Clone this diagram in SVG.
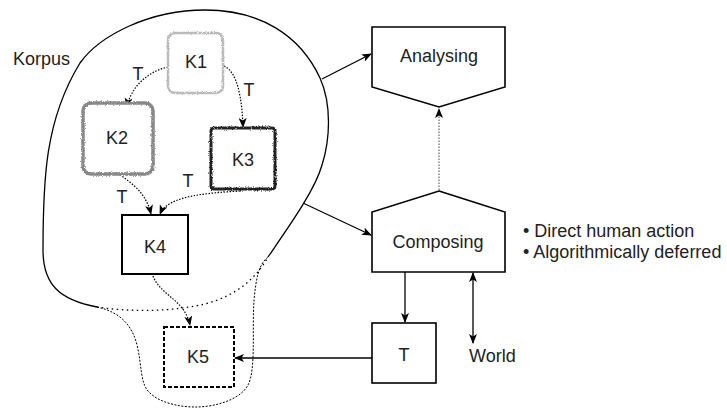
<svg xmlns="http://www.w3.org/2000/svg" width="727" height="408" viewBox="0 0 727 408">
<defs>
<style>
text{font-family:"Liberation Sans",Arial,sans-serif;font-size:18px;fill:#222}
.c{text-anchor:middle}
.solid{fill:none;stroke:#000;stroke-width:1.3}
.dot{fill:none;stroke:#000;stroke-width:1.2;stroke-dasharray:1.5 1.5}
.box{fill:#fff;stroke:#000;stroke-width:1.6}
</style>
<marker id="ah" viewBox="0 0 10 8" refX="9" refY="4" markerWidth="10" markerHeight="8" markerUnits="userSpaceOnUse" orient="auto-start-reverse">
<path d="M0,0 L10,4 L0,8 L2.5,4 Z" fill="#000"/>
</marker>
<filter id="rough" x="-10%" y="-10%" width="120%" height="120%">
<feTurbulence type="fractalNoise" baseFrequency="1.2" numOctaves="2" seed="3" result="n"/>
<feDisplacementMap in="SourceGraphic" in2="n" scale="3" xChannelSelector="R" yChannelSelector="G"/>
</filter>
</defs>
<rect width="727" height="408" fill="#fff"/>

<g id="korpus">
<path class="solid" d="M97,307 C60,300 43,285 43,250 C43,180 45,120 80,63 C100,35 150,10 205,10 C260,10 300,35 320,78 C332,105 330,140 322,165 C315,190 290,225 268,257"/>
<path fill="none" stroke="#000" stroke-width="1" stroke-dasharray="2 1.5" d="M97,307 C120,312 132,325 137,345 C142,365 140,385 150,393 C160,403 180,407 195,407 C215,407 240,400 248,385 C256,370 252,330 254,300 C256,280 258,265 268,257"/>
<path fill="none" stroke="#000" stroke-width="1.3" stroke-dasharray="1.5 3.5" d="M97,307 C130,312 170,312 205,304 C235,296 255,280 268,257"/>
<text x="13" y="65">Korpus</text>
</g>

<g id="connectors">
<path class="dot" d="M168,67 C145,72 130,90 127,107" marker-end="url(#ah)"/>
<path class="dot" d="M224,66 C238,72 242,100 243,127" marker-end="url(#ah)"/>
<path class="dot" d="M113,169 C125,180 145,188 151,214" marker-end="url(#ah)"/>
<path class="dot" d="M240,191 C210,193 168,195 160,214" marker-end="url(#ah)"/>
<path class="dot" d="M153,276 C160,295 185,300 190,325" marker-end="url(#ah)"/>
<path class="solid" d="M322,79 L371,54" marker-end="url(#ah)"/>
<path class="solid" d="M303,203 L371,235" marker-end="url(#ah)"/>
<path class="solid" d="M405,272 L405,322" marker-end="url(#ah)"/>
<path class="solid" d="M473,273 L473,343" marker-start="url(#ah)" marker-end="url(#ah)"/>
<path class="solid" d="M372,358 L235,358" marker-end="url(#ah)"/>
<path fill="none" stroke="#666" stroke-width="1.2" stroke-dasharray="1.5 1.5" d="M439,190 L439,109" marker-end="url(#ah)"/>
<text class="c" x="138" y="80">T</text>
<text class="c" x="249" y="96">T</text>
<text class="c" x="122" y="203">T</text>
<text class="c" x="188" y="187">T</text>
</g>

<g id="K1">
<rect x="168" y="33" width="55" height="60" rx="7" fill="#fff" stroke="#bbb" stroke-width="2.5" filter="url(#rough)"/>
<text class="c" x="196" y="68">K1</text>
</g>
<g id="K2">
<rect x="83" y="103" width="70" height="71" rx="8" fill="#fff" stroke="#888" stroke-width="3.5" filter="url(#rough)"/>
<text class="c" x="117" y="144">K2</text>
</g>
<g id="K3">
<rect x="211" y="128" width="64" height="61" rx="3" fill="#fff" stroke="#222" stroke-width="3" filter="url(#rough)"/>
<text class="c" x="243" y="166">K3</text>
</g>
<g id="K4">
<rect x="122" y="215" width="66" height="59" fill="#fff" stroke="#000" stroke-width="2"/>
<text class="c" x="155" y="253">K4</text>
</g>
<g id="K5">
<rect x="164" y="327" width="70" height="60" fill="#fff" stroke="#000" stroke-width="2" stroke-dasharray="4 2"/>
<text class="c" x="198" y="363">K5</text>
</g>
<g id="analysing">
<path class="box" d="M372,27 L505,27 L505,87 L439,107 L372,87 Z"/>
<text class="c" x="439" y="62">Analysing</text>
</g>
<g id="composing">
<path class="box" d="M439,191 L505,212 L505,272 L372,272 L372,212 Z"/>
<text class="c" x="438" y="248">Composing</text>
</g>
<g id="T">
<rect class="box" x="372" y="323" width="64" height="60"/>
<text class="c" x="404" y="361">T</text>
</g>
<g id="world">
<text x="469" y="362">World</text>
</g>
<g id="notes">
<text x="523" y="237">• Direct human action</text>
<text x="523" y="258">• Algorithmically deferred</text>
</g>
</svg>
